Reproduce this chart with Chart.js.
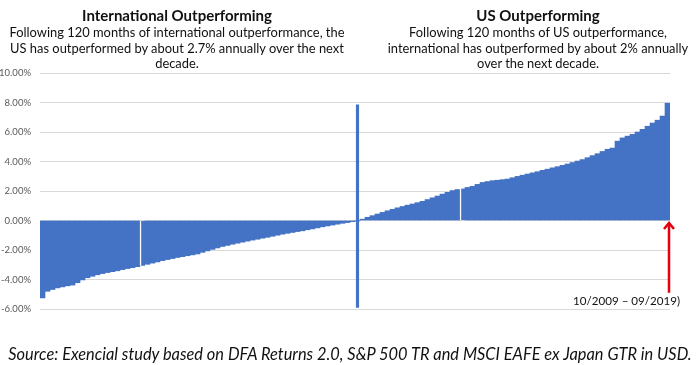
<!DOCTYPE html>
<html>
<head>
<meta charset="utf-8">
<script src="https://cdn.jsdelivr.net/npm/chart.js@4.4.1/dist/chart.umd.min.js"></script>
<style>
  html, body { margin: 0; padding: 0; background: #fff; }
  #wrap { position: relative; width: 700px; height: 365px; overflow: hidden; font-family: Lato, "Open Sans", sans-serif; color: #111; }
  #chart { position: absolute; left: 0; top: 0; }
  .head { position: absolute; text-align: center; }
  .head h2 { margin: 0; font-size: 15px; line-height: 20px; font-weight: 700; }
  .head p { margin: 0; font-size: 12.9px; line-height: 15.5px; }
  #left-head { left: 0; top: 5px; width: 354px; }
  #right-head { left: 358px; top: 5px; width: 360px; }
  #source { position: absolute; left: 0; width: 700px; top: 345px; text-align: center; font-style: italic; font-size: 16.4px; line-height: 18px; }
</style>
</head>
<body>
<div id="wrap">
  <canvas id="chart" width="700" height="365"></canvas>
  <div class="head" id="left-head">
    <h2>International Outperforming</h2>
    <p>Following 120 months of international outperformance, the<br>US has outperformed by about 2.7% annually over the next<br>decade.</p>
  </div>
  <div class="head" id="right-head">
    <h2>US Outperforming</h2>
    <p>Following 120 months of US outperformance,<br>international has outperformed by about 2% annually<br>over the next decade.</p>
  </div>
  <div id="source">Source: Exencial study based on DFA Returns 2.0, S&amp;P 500 TR and MSCI EAFE ex Japan GTR in USD.</div>
</div>
<script>
// sorted annualised return differences, one bar per rolling period (%)
const returnDiffs = [
  -5.25, -4.80, -4.68, -4.57, -4.50, -4.43, -4.38, -4.22, -4.03, -3.88,
  -3.78, -3.68, -3.60, -3.53, -3.47, -3.41, -3.33, -3.26, -3.20, -3.13,
  -3.06, -2.97, -2.89, -2.81, -2.72, -2.65, -2.58, -2.51, -2.45, -2.39,
  -2.33, -2.27, -2.16, -2.06, -1.96, -1.86, -1.76, -1.69, -1.61, -1.54,
  -1.47, -1.40, -1.33, -1.27, -1.20, -1.14, -1.07, -1.00, -0.93, -0.87,
  -0.81, -0.75, -0.70, -0.63, -0.57, -0.50, -0.43, -0.37, -0.31, -0.25,
  -0.19, -0.14, -0.08, -0.02, 0.09, 0.22, 0.33, 0.44, 0.55, 0.66,
  0.76, 0.86, 0.95, 1.04, 1.12, 1.21, 1.30, 1.42, 1.54, 1.66,
  1.79, 1.91, 2.03, 2.10, 2.17, 2.24, 2.32, 2.45, 2.58, 2.64,
  2.70, 2.73, 2.77, 2.81, 2.90, 2.99, 3.07, 3.15, 3.23, 3.31,
  3.40, 3.48, 3.57, 3.65, 3.74, 3.83, 3.93, 4.03, 4.13, 4.26,
  4.40, 4.53, 4.68, 4.83, 4.91, 5.38, 5.60, 5.72, 5.84, 6.00,
  6.18, 6.39, 6.61, 6.80, 7.08, 7.95
];
const categories = returnDiffs.map((v, i) => String(i + 1));

// bars that show a thin white break on their left side
const breakBars = [20, 84];

// divider between the two regimes: bar index and its span (%)
const dividerIndex = 63;
const dividerSpan = [-5.9, 7.85];

// latest period, marked with the red arrow
const latestLabel = '10/2009 \u2013 09/2019)';
const arrowSpan = [-4.9, -0.1];

const yTicks = { min: -6, max: 10, step: 2 };

const dividerData = categories.map((c, i) => i === dividerIndex ? dividerSpan : null);

const latestMarker = {
  id: 'latestMarker',
  afterDatasetsDraw(chart) {
    const { ctx, scales: { x, y } } = chart;
    const px = x.getPixelForValue(returnDiffs.length - 1) + 1.5;
    const yBottom = y.getPixelForValue(arrowSpan[0]);
    const yTip = y.getPixelForValue(arrowSpan[1]);
    ctx.save();
    ctx.strokeStyle = '#e3000f';
    ctx.lineWidth = 2.5;
    ctx.beginPath();
    ctx.moveTo(px, yBottom);
    ctx.lineTo(px, yTip + 1);
    ctx.stroke();
    ctx.beginPath();
    ctx.moveTo(px - 5, yTip + 7);
    ctx.lineTo(px, yTip + 1);
    ctx.lineTo(px + 5, yTip + 7);
    ctx.stroke();
    ctx.fillStyle = '#111';
    ctx.font = '11.6px Lato, sans-serif';
    ctx.textAlign = 'right';
    ctx.textBaseline = 'middle';
    ctx.fillText(latestLabel, chart.chartArea.right + 10, y.getPixelForValue(-5.45));
    ctx.restore();
  }
};

new Chart(document.getElementById('chart'), {
  type: 'bar',
  data: {
    labels: categories,
    datasets: [
      {
        data: dividerData,
        backgroundColor: '#4472c4',
        barThickness: 2.5,
        grouped: false
      },
      {
        data: returnDiffs,
        backgroundColor: '#4472c4',
        borderColor: '#ffffff',
        borderWidth: ctx => breakBars.includes(ctx.dataIndex) ? { left: 1.5, right: 0, top: 0, bottom: 0 } : 0,
        borderSkipped: false,
        categoryPercentage: 1,
        barPercentage: 1,
        grouped: false
      }
    ]
  },
  options: {
    responsive: false,
    animation: false,
    devicePixelRatio: 1,
    layout: { padding: { left: 0, right: 30, top: 73, bottom: 56 } },
    plugins: { legend: { display: false }, tooltip: { enabled: false } },
    scales: {
      x: { display: false },
      y: {
        min: yTicks.min,
        max: yTicks.max,
        afterFit: scale => { scale.width = 40; },
        border: { display: false },
        grid: { color: '#d9d9d9', lineWidth: 1, drawTicks: false },
        ticks: {
          stepSize: yTicks.step,
          padding: 9,
          color: '#595959',
          font: { family: 'Lato', size: 9.5 },
          callback: v => v.toFixed(2) + '%'
        }
      }
    }
  },
  plugins: [latestMarker]
});
</script>
</body>
</html>
